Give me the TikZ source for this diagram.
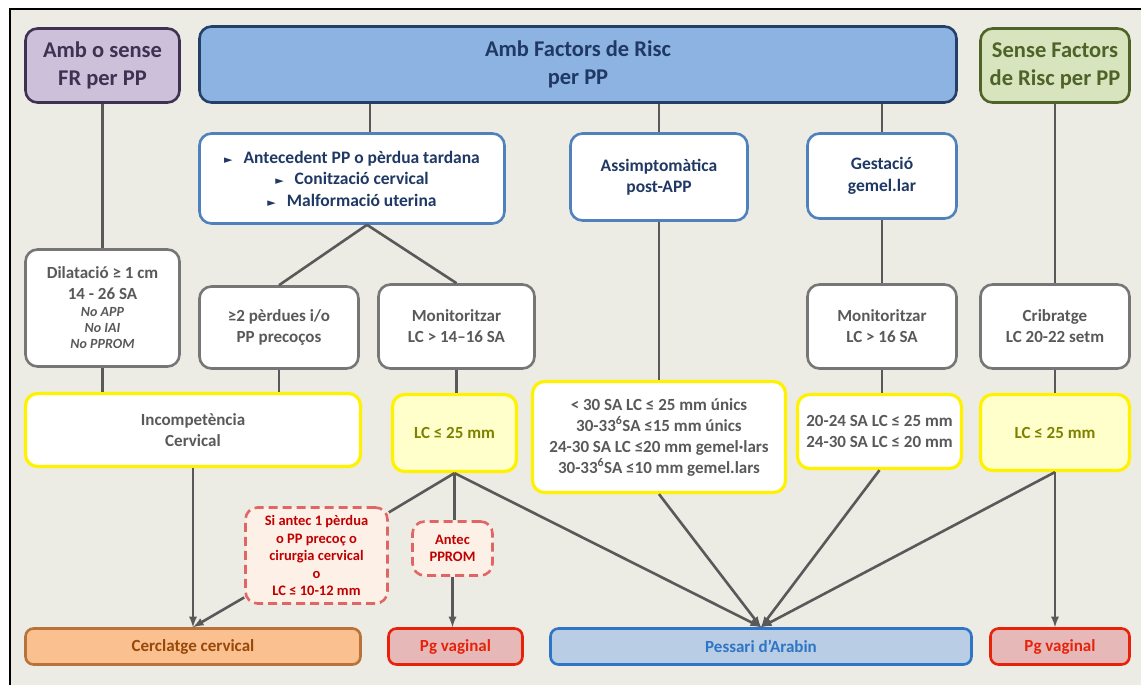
\documentclass[tikz,border=0pt]{standalone}
\usepackage{fontspec}
\setmainfont{Carlito}
\newfontfamily\symfont{DejaVu Sans}

\definecolor{bgcol}{RGB}{236,236,228}
\definecolor{linecol}{RGB}{89,89,89}
\definecolor{purpfill}{RGB}{204,192,218}
\definecolor{purpedge}{RGB}{63,49,81}
\definecolor{bluefill}{RGB}{141,179,226}
\definecolor{blueedge}{RGB}{37,64,104}
\definecolor{navy}{RGB}{31,56,100}
\definecolor{greenfill}{RGB}{215,228,189}
\definecolor{greenedge}{RGB}{79,98,40}
\definecolor{riskedge}{RGB}{79,129,189}
\definecolor{greyedge}{RGB}{118,118,118}
\definecolor{greytext}{RGB}{89,89,89}
\definecolor{lcfill}{RGB}{255,255,204}
\definecolor{olive}{RGB}{128,128,0}
\definecolor{warnfill}{RGB}{253,241,231}
\definecolor{warnedge}{RGB}{224,102,102}
\definecolor{warntext}{RGB}{192,0,0}
\definecolor{cercfill}{RGB}{250,192,144}
\definecolor{cercedge}{RGB}{184,115,58}
\definecolor{cerctext}{RGB}{152,72,7}
\definecolor{pgfill}{RGB}{230,185,184}
\definecolor{pgedge}{RGB}{230,35,10}
\definecolor{pessfill}{RGB}{185,205,229}
\definecolor{pessedge}{RGB}{46,117,198}

\newcommand{\tri}{{\symfont\fontsize{11}{11}\selectfont ►}\hspace{11pt}}
\newcommand{\smit}[1]{{\fontsize{14}{16}\selectfont\itshape #1}}

\tikzset{
  bx/.style={rounded corners=12, line width=2.6, align=center, inner sep=2},
  topbox/.style={bx, font=\fontsize{22.5}{28}\selectfont\bfseries},
  purpbox/.style={topbox, draw=purpedge, fill=purpfill, text=purpedge},
  bluebox/.style={topbox, draw=blueedge, fill=bluefill, text=navy},
  greenbox/.style={topbox, draw=greenedge, fill=greenfill, text=greenedge},
  riskbox/.style={bx, draw=riskedge, fill=white, text=navy, font=\fontsize{17.5}{21.5}\selectfont\bfseries},
  greybox/.style={bx, draw=greyedge, fill=white, text=greytext, font=\fontsize{17}{21}\selectfont\bfseries},
  yelbox/.style={bx, line width=3.2, draw=yellow, fill=white, text=greytext, font=\fontsize{17}{21}\selectfont\bfseries},
  lcbox/.style={yelbox, fill=lcfill, text=olive},
  warnbox/.style={bx, dash pattern=on 9pt off 5pt, draw=warnedge, fill=warnfill, text=warntext, font=\fontsize{14.5}{17.5}\selectfont\bfseries},
  endbox/.style={bx, rounded corners=8, font=\fontsize{17}{18}\selectfont\bfseries, minimum height=36},
  conn/.style={draw=linecol, line width=2.6},
  arr/.style={conn, ->, >=latex}
}

\begin{document}
\begin{tikzpicture}[x=1pt,y=-1pt]
\useasboundingbox (0,0) rectangle (1141,685);
\fill[white] (0,0) rectangle (1141,685);
\fill[bgcol] (10,9) rectangle (1141,685);
\draw[line width=1.6] (10,685) -- (10,9) -- (1141,9);

% top row
\node[purpbox, minimum width=154, minimum height=74] (fr) at (102.5,65.5) {Amb o sense\\FR per PP};
\node[bluebox, minimum width=757, minimum height=76] (amb) at (578,64.5) {Amb Factors de Risc\\per PP};
\node[greenbox, minimum width=149, minimum height=74] (sense) at (1055,65.5) {Sense Factors\\de Risc per PP};

% risk factors
\node[riskbox, minimum width=305, minimum height=90] (ante) at (352,178.5)
  {\tri Antecedent PP o pèrdua tardana\\\tri Conització cervical\\\tri Malformació uterina};
\node[riskbox, minimum width=177, minimum height=87] (asim) at (659,177) {Assimptomàtica\\post-APP};
\node[riskbox, minimum width=149, minimum height=85] (gest) at (882,176) {Gestació\\gemel.lar};

% second row
\node[greybox, minimum width=154, minimum height=117] (dila) at (102.5,308)
  {Dilatació ≥ 1 cm\\14 - 26 SA\\[-4pt]\smit{No APP}\\[-5pt]\smit{No IAI}\\[-5pt]\smit{No PPROM}};
\node[greybox, minimum width=159, minimum height=82] (perd) at (279,327.5) {≥2 pèrdues i/o\\PP precoços};
\node[greybox, minimum width=156, minimum height=84] (moniA) at (456.5,326.5) {Monitoritzar\\LC > 14–16 SA};
\node[greybox, minimum width=149, minimum height=84] (moniB) at (882,326.5) {Monitoritzar\\LC > 16 SA};
\node[greybox, minimum width=149, minimum height=84] (crib) at (1055,326.5) {Cribratge\\LC 20-22 setm};

% yellow row
\node[yelbox, minimum width=335, minimum height=73] (inco) at (193,430) {Incompetència\\Cervical};
\node[lcbox, minimum width=124, minimum height=77] (lcA) at (454.5,433) {LC ≤ 25 mm};
\node[yelbox, minimum width=253, minimum height=111] (crit) at (659,437)
  {< 30 SA LC ≤ 25 mm únics\\30-33\textsuperscript{6}SA ≤15 mm únics\\24-30 SA LC ≤20 mm gemel·lars\\30-33\textsuperscript{6}SA ≤10 mm gemel.lars};
\node[yelbox, minimum width=164, minimum height=74] (twin) at (879.5,431.5) {20-24 SA LC ≤ 25 mm\\24-30 SA LC ≤ 20 mm};
\node[lcbox, minimum width=149, minimum height=76] (lcB) at (1055,432.5) {LC ≤ 25 mm};

% treatments
\node[endbox, draw=cercedge, fill=cercfill, text=cerctext, minimum width=335] (cerc) at (193,646.5) {Cerclatge cervical};
\node[endbox, draw=pgedge, fill=pgfill, text=pgedge, minimum width=134] (pgA) at (455.5,646.5) {Pg vaginal};
\node[endbox, draw=pessedge, fill=pessfill, text=pessedge, minimum width=421] (pess) at (761,646.5) {Pessari d’Arabin};
\node[endbox, draw=pgedge, fill=pgfill, text=pgedge, minimum width=139] (pgB) at (1060,646.5) {Pg vaginal};

% conditions
\node[warnbox, minimum width=142, minimum height=96] (warn) at (316.5,555.5)
  {Si antec 1 pèrdua\\o PP precoç o\\cirurgia cervical\\o\\LC ≤ 10-12 mm};
\node[warnbox, minimum width=80, minimum height=54] (pprom) at (452.5,548.5) {Antec\\PPROM};

% connectors
\draw[conn] (fr) -- (dila);
\draw[conn] ([xshift=18pt]ante.north) -- ([xshift=18pt]ante.north |- amb.south);
\draw[conn] (asim) -- (asim |- amb.south);
\draw[conn] (gest) -- (gest |- amb.south);
\draw[conn] (sense) -- (crib);
\draw[conn] ([xshift=15pt]ante.south) -- (perd.north);
\draw[conn] ([xshift=15pt]ante.south) -- (moniA.north);
\draw[conn] (gest) -- (moniB);
\draw[conn] (moniB.south) -- (moniB.south |- twin.north);
\draw[conn] (crib) -- (lcB);
\draw[conn] (dila.south) -- (dila.south |- inco.north);
\draw[conn] (perd.south) -- (perd.south |- inco.north);
\draw[conn] (moniA.south) -- (moniA.south |- lcA.north);
\draw[conn] (asim) -- (crit);

% arrows
\draw[arr] (inco) -- (cerc);
\draw[conn] (lcA.south) -- (warn);
\draw[arr] (warn) -- (cerc.north);
\draw[conn] (lcA.south) -- (pprom.north -| lcA.south);
\draw[arr] (pprom.south) -- (pprom.south |- pgA.north);
\draw[arr] (lcA.south) -- (pess.north);
\draw[arr] (crit.south) -- (pess.north);
\draw[arr] (twin.south) -- (pess.north);
\draw[arr] (lcB.south) -- (pess.north);
\draw[arr] (lcB.south) -- (lcB.south |- pgB.north);
\end{tikzpicture}
\end{document}
